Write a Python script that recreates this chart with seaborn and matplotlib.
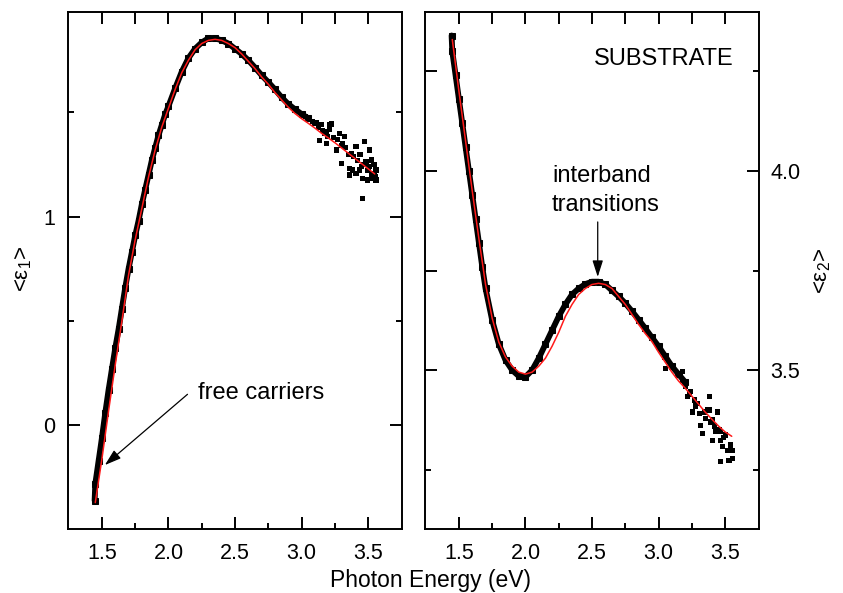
import matplotlib
matplotlib.use("Agg")
import matplotlib.pyplot as plt
import seaborn as sns
from matplotlib.ticker import FixedLocator

# ---------------- data ----------------
# fitted model curves (red)
ENERGY_FIT = [1.45, 1.50, 1.55, 1.60, 1.65, 1.70, 1.75, 1.80, 1.85, 1.90, 1.95,
              2.00, 2.05, 2.10, 2.15, 2.20, 2.25, 2.30, 2.35, 2.40, 2.45, 2.50,
              2.55, 2.60, 2.65, 2.70, 2.75, 2.80, 2.85, 2.90, 2.95, 3.00, 3.05,
              3.10, 3.15, 3.20, 3.25, 3.30, 3.35, 3.40, 3.45, 3.50, 3.55]
EPS1_FIT = [-0.37, -0.16, 0.07, 0.29, 0.50, 0.72, 0.89, 1.04, 1.19, 1.32, 1.43,
            1.52, 1.61, 1.69, 1.75, 1.80, 1.83, 1.845, 1.85, 1.845, 1.83, 1.81,
            1.78, 1.745, 1.71, 1.67, 1.635, 1.595, 1.56, 1.525, 1.495, 1.47, 1.448,
            1.425, 1.40, 1.378, 1.355, 1.33, 1.305, 1.28, 1.255, 1.23, 1.205]
EPS2_FIT = [4.33, 4.20, 4.075, 3.95, 3.83, 3.715, 3.63, 3.57, 3.533, 3.51, 3.495,
            3.49, 3.495, 3.51, 3.53, 3.56, 3.595, 3.635, 3.665, 3.69, 3.705, 3.715,
            3.718, 3.715, 3.705, 3.685, 3.665, 3.64, 3.615, 3.592, 3.572, 3.545, 3.52,
            3.495, 3.473, 3.455, 3.435, 3.415, 3.395, 3.377, 3.36, 3.345, 3.334]

# measured data, dense low-noise part
E1_DENSE_X = [1.445, 1.45, 1.475, 1.50, 1.525, 1.55, 1.575, 1.60, 1.625, 1.65,
              1.675, 1.70, 1.725, 1.75, 1.775, 1.80, 1.825, 1.85, 1.875, 1.90,
              1.925, 1.95, 1.975, 2.00, 2.05, 2.10, 2.15, 2.20, 2.25, 2.30, 2.35,
              2.40, 2.45, 2.50, 2.55, 2.60, 2.65, 2.70, 2.75, 2.80, 2.85, 2.90,
              2.95, 3.00, 3.05]
E1_DENSE_Y = [-0.36, -0.28, -0.17, -0.06, 0.06, 0.17, 0.27, 0.37, 0.46, 0.56,
              0.66, 0.75, 0.83, 0.91, 0.98, 1.06, 1.13, 1.20, 1.27, 1.33,
              1.39, 1.44, 1.49, 1.53, 1.615, 1.695, 1.76, 1.805, 1.835, 1.855, 1.855,
              1.845, 1.83, 1.805, 1.78, 1.75, 1.715, 1.678, 1.645, 1.61, 1.572, 1.54,
              1.515, 1.492, 1.472]
# measured data, noisy high-energy tail
E1_TAIL_X = [3.01, 3.03, 3.06, 3.08, 3.10, 3.11, 3.13, 3.135, 3.15, 3.16, 3.17,
             3.185, 3.19, 3.198, 3.21, 3.21, 3.223, 3.24, 3.26, 3.27, 3.285, 3.298,
             3.30, 3.31, 3.32, 3.33, 3.35, 3.36, 3.36, 3.373, 3.385, 3.39,
             3.41, 3.41, 3.42, 3.435, 3.44, 3.448, 3.46, 3.46, 3.47, 3.473, 3.485,
             3.497, 3.50, 3.51, 3.51, 3.523, 3.53, 3.535, 3.545, 3.548, 3.555,
             3.56, 3.56]
E1_TAIL_Y = [1.495, 1.48, 1.47, 1.455, 1.447, 1.45, 1.43, 1.367, 1.44, 1.415, 1.40,
             1.352, 1.41, 1.383, 1.44, 1.42, 1.444, 1.38, 1.32, 1.37, 1.40, 1.256,
             1.34, 1.352, 1.383, 1.33, 1.30, 1.232, 1.20, 1.304, 1.224, 1.29,
             1.335, 1.208, 1.27, 1.224, 1.30, 1.24, 1.184, 1.088, 1.25, 1.359, 1.264,
             1.176, 1.22, 1.32, 1.24, 1.272, 1.20, 1.184, 1.25, 1.208, 1.19,
             1.176, 1.224]

E2_DENSE_X = [1.445, 1.45, 1.475, 1.50, 1.525, 1.55, 1.575, 1.60, 1.625, 1.65,
              1.675, 1.70, 1.75, 1.80, 1.85, 1.90, 1.95, 2.00, 2.05, 2.10, 2.15,
              2.20, 2.25, 2.30, 2.35, 2.40, 2.45, 2.50, 2.55, 2.60, 2.65, 2.70,
              2.75, 2.80, 2.85, 2.90, 2.95, 3.00, 3.05, 3.10, 3.15, 3.20]
E2_DENSE_Y = [4.34, 4.30, 4.24, 4.18, 4.12, 4.06, 4.00, 3.94, 3.88, 3.82,
              3.76, 3.705, 3.625, 3.565, 3.525, 3.50, 3.485, 3.483, 3.50, 3.53, 3.565,
              3.60, 3.635, 3.665, 3.69, 3.705, 3.716, 3.722, 3.722, 3.715, 3.70, 3.685,
              3.668, 3.648, 3.627, 3.605, 3.582, 3.56, 3.535, 3.51, 3.49, 3.47]
E2_TAIL_X = [3.005, 3.055, 3.168, 3.18, 3.18, 3.20, 3.218, 3.23, 3.243, 3.255, 3.268,
             3.28, 3.293, 3.305, 3.318, 3.33, 3.343, 3.355, 3.37, 3.38, 3.38, 3.39,
             3.405, 3.405, 3.42, 3.43, 3.443, 3.455, 3.468, 3.468, 3.468, 3.48,
             3.49, 3.505, 3.518, 3.53, 3.543, 3.555, 3.555]
E2_TAIL_Y = [3.554, 3.504, 3.492, 3.475, 3.496, 3.46, 3.433, 3.44, 3.446, 3.395, 3.425,
             3.41, 3.416, 3.391, 3.362, 3.341, 3.395, 3.379, 3.40, 3.433, 3.40, 3.37,
             3.375, 3.324, 3.36, 3.345, 3.395, 3.35, 3.345, 3.324, 3.27, 3.308,
             3.33, 3.337, 3.299, 3.274, 3.312, 3.299, 3.279]

X_MAJOR = [1.5, 2.0, 2.5, 3.0, 3.5]
X_MINOR = [1.75, 2.25, 2.75, 3.25]
X_LABELS = ["1.5", "2.0", "2.5", "3.0", "3.5"]
Y1_MAJOR = [0, 1]
Y1_LABELS = ["0", "1"]
Y1_MINOR = [0.5, 1.5]
Y2_MAJOR = [3.5, 4.0]
Y2_LABELS = ["3.5", "4.0"]
Y2_MINOR = [3.25, 3.75, 4.25]

# ---------------- style ----------------
sns.set_style("ticks")
plt.rcParams["font.family"] = ["Liberation Sans", "DejaVu Sans"]
plt.rcParams["mathtext.fontset"] = "custom"
plt.rcParams["mathtext.rm"] = "Liberation Sans"
plt.rcParams["mathtext.it"] = "Liberation Sans:italic"
plt.rcParams["axes.edgecolor"] = "black"
plt.rcParams["xtick.color"] = "black"
plt.rcParams["ytick.color"] = "black"
plt.rcParams["text.color"] = "black"

W, H = 843, 593
fig = plt.figure(figsize=(W / 100, H / 100), dpi=100)
bottom = 1 - 528.7 / H
height = (528.7 - 12) / H
ax1 = fig.add_axes([68 / W, bottom, (402 - 68) / W, height])
ax2 = fig.add_axes([425 / W, bottom, (759 - 425) / W, height])

SPW = 1.4
TL_MAJ, TL_MIN = 8.6, 4.6
LABEL_FS = 15.5
ANN_FS = 17
XLIM = (1.245, 3.755)

arrow_kw = dict(arrowstyle="-|>,head_length=0.5,head_width=0.16",
                mutation_scale=20, lw=0.9, color="black", shrinkA=0, shrinkB=0)


def draw_panel(ax, dx, dy, tx, ty, fit):
    sns.lineplot(x=dx, y=dy, ax=ax, color="black", lw=4.2, marker="s", ms=3.8,
                 mec="black", sort=False, estimator=None, zorder=2)
    sns.scatterplot(x=tx, y=ty, ax=ax, color="black", marker="s", s=14,
                    edgecolor="none", zorder=2)
    sns.lineplot(x=ENERGY_FIT, y=fit, ax=ax, color="#ff1a1a", lw=1.1,
                 sort=False, estimator=None, zorder=3)
    ax.set_xlim(*XLIM)
    ax.set_xticks(X_MAJOR, labels=X_LABELS)
    ax.xaxis.set_minor_locator(FixedLocator(X_MINOR))
    ax.set_xlabel("")
    ax.set_ylabel("")
    for s in ax.spines.values():
        s.set_linewidth(SPW)
        s.set_visible(True)
    ax.tick_params(axis="x", which="both", direction="in", bottom=True,
                   top=True, labelbottom=True, labeltop=False, width=SPW)
    ax.tick_params(axis="x", which="major", length=TL_MAJ, pad=10,
                   labelsize=LABEL_FS)
    ax.tick_params(axis="x", which="minor", length=TL_MIN)


draw_panel(ax1, E1_DENSE_X, E1_DENSE_Y, E1_TAIL_X, E1_TAIL_Y, EPS1_FIT)
ax1.set_ylim(-0.495, 1.981)
ax1.set_yticks(Y1_MAJOR, labels=Y1_LABELS)
ax1.yaxis.set_minor_locator(FixedLocator(Y1_MINOR))
ax1.tick_params(axis="y", which="both", direction="in", left=True, right=True,
                labelleft=True, labelright=False, width=SPW)
ax1.tick_params(axis="y", which="major", length=TL_MAJ, pad=9,
                labelsize=LABEL_FS)
ax1.tick_params(axis="y", which="minor", length=TL_MIN)

draw_panel(ax2, E2_DENSE_X, E2_DENSE_Y, E2_TAIL_X, E2_TAIL_Y, EPS2_FIT)
ax2.set_ylim(3.102, 4.399)
ax2.set_yticks(Y2_MAJOR, labels=Y2_LABELS)
ax2.yaxis.set_minor_locator(FixedLocator(Y2_MINOR))
ax2.tick_params(axis="y", which="both", direction="in", left=True, right=True,
                labelleft=False, labelright=True, width=SPW)
ax2.tick_params(axis="y", which="major", length=TL_MAJ, pad=8,
                labelsize=LABEL_FS)
ax2.tick_params(axis="y", which="minor", length=TL_MIN)

# top-side minor ticks are as long as the major ones; on the right panel's
# left side the 3.75 and 4.25 minor ticks are long as well
for ax in (ax1, ax2):
    for t in ax.xaxis.get_minor_ticks(len(X_MINOR)):
        t.tick2line.set_markersize(TL_MAJ)
for i, t in enumerate(ax2.yaxis.get_minor_ticks(len(Y2_MINOR))):
    if i > 0:
        t.tick1line.set_markersize(TL_MAJ)

# annotations
ax1.text(2.22, 0.126, "free carriers", fontsize=ANN_FS, ha="left", va="baseline")
ax1.annotate("", xy=(1.522, -0.19), xytext=(2.143, 0.149), arrowprops=arrow_kw)

ax2.text(2.20, 3.972, "interband", fontsize=ANN_FS, ha="left", va="baseline")
ax2.text(2.20, 3.900, "transitions", fontsize=ANN_FS, ha="left", va="baseline")
ax2.annotate("", xy=(2.543, 3.734), xytext=(2.543, 3.872), arrowprops=arrow_kw)
ax2.text(3.568, 4.265, "SUBSTRATE", fontsize=ANN_FS, ha="right", va="baseline")

# axis titles
fig.text(0.511, 1 - 580 / H, "Photon Energy (eV)", fontsize=16.5,
         ha="center", va="center")
fig.text(24 / W, 1 - 269 / H, "<ε$_1$>", fontsize=16, rotation=90,
         ha="center", va="center")
fig.text(822.5 / W, 1 - 271 / H, "<ε$_2$>", fontsize=16, rotation=90,
         ha="center", va="center")

fig.savefig("out.png", dpi=100)
